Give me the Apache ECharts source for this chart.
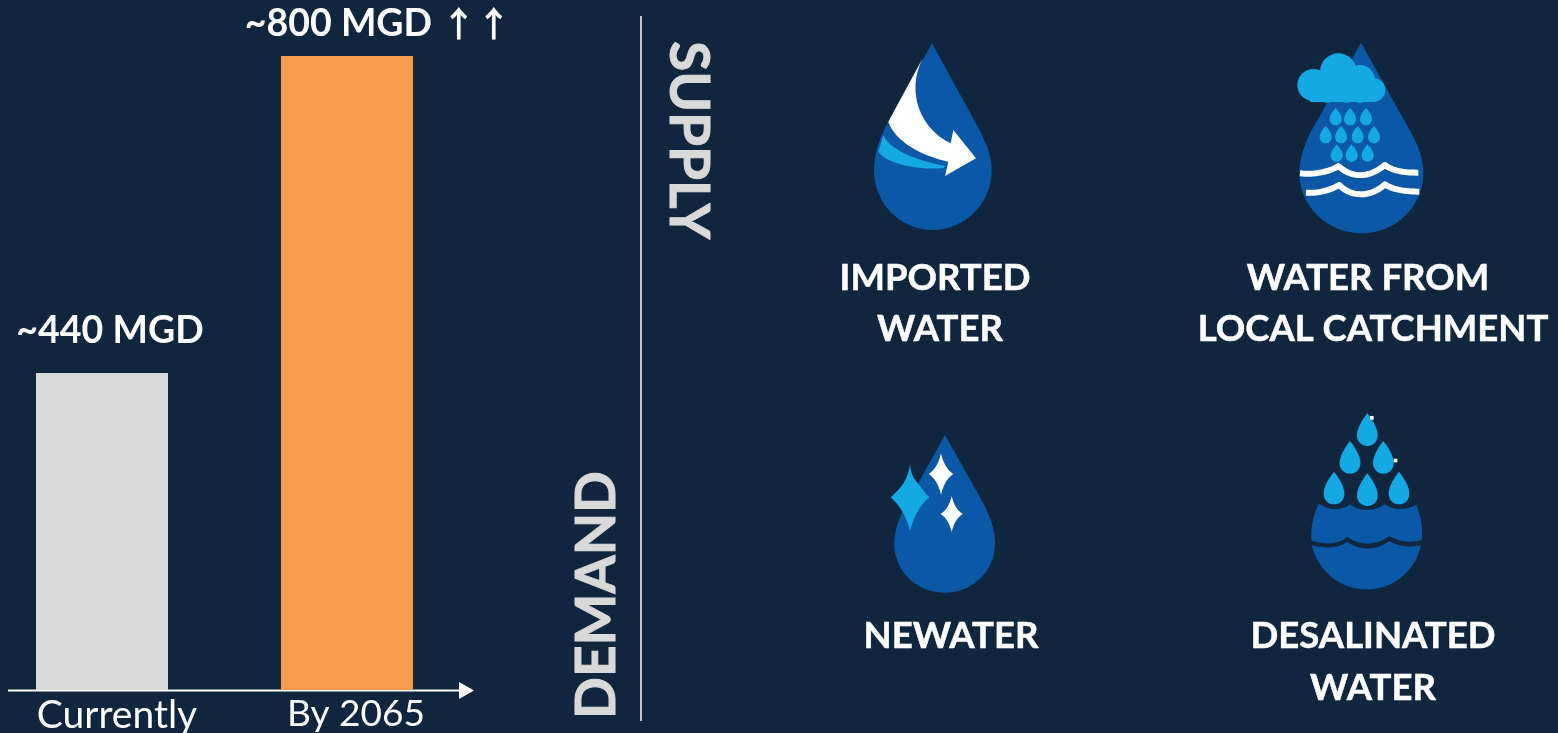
<!DOCTYPE html>
<html><head><meta charset="utf-8">
<style>html,body{margin:0;padding:0;background:#10263f;overflow:hidden}#c{width:1558px;height:733px}</style>
<script src="https://cdn.jsdelivr.net/npm/echarts@6/dist/echarts.min.js"></script>
</head><body><div id="c"></div>
<script>
const categories = ['Currently', 'By 2065'];
const barHeights = [400, 800];
const barLabels = ['~440 MGD', '~800 MGD ↑↑'];
const sideTitles = ['SUPPLY', 'DEMAND'];
const sourceLabels = ['IMPORTED', 'WATER', 'WATER FROM', 'LOCAL CATCHMENT', 'NEWATER', 'DESALINATED', 'WATER'];

const BG = '#10263f', BLUE = '#0a58a6', CYAN = '#14a9e4', WHITE = '#ffffff', GREY = '#d9d9d9', ORANGE = '#f99a4a';
const FONT = 'Lato';

// Turn a small M/L/C/Q/Z outline into points for polygon and polyline shapes.
function outline(d) {
  const t = d.match(/[MLCQZ]|-?[\d.]+/g), pts = [];
  let i = 0, cmd = '', cur = [0, 0];
  const n = () => parseFloat(t[i++]);
  while (i < t.length) {
    if (/[MLCQZ]/.test(t[i])) cmd = t[i++];
    if (cmd === 'Z') continue;
    if (cmd === 'M' || cmd === 'L') { cur = [n(), n()]; pts.push(cur); }
    else if (cmd === 'C') {
      const a = [n(), n()], b = [n(), n()], c = [n(), n()], s = cur;
      for (let k = 1; k <= 16; k++) {
        const u = k / 16, v = 1 - u;
        pts.push([0, 1].map(j => v * v * v * s[j] + 3 * v * v * u * a[j] + 3 * v * u * u * b[j] + u * u * u * c[j]));
      }
      cur = c;
    } else if (cmd === 'Q') {
      const a = [n(), n()], c = [n(), n()], s = cur;
      for (let k = 1; k <= 12; k++) {
        const u = k / 12, v = 1 - u;
        pts.push([0, 1].map(j => v * v * s[j] + 2 * v * u * a[j] + u * u * c[j]));
      }
      cur = c;
    }
  }
  return pts;
}
function dropPath(cx, top, w, h) {
  const r = w / 2, b = top + h, cy = b - r * 1.02;
  return `M${cx} ${top} C${cx + r * .5} ${top + h * .2} ${cx + r} ${cy - r * .7} ${cx + r} ${cy} C${cx + r} ${cy + r * .6} ${cx + r * .55} ${b} ${cx} ${b} C${cx - r * .55} ${b} ${cx - r} ${cy + r * .6} ${cx - r} ${cy} C${cx - r} ${cy - r * .7} ${cx - r * .5} ${top + h * .2} ${cx} ${top} Z`;
}
function starPath(cx, cy, rx, ry) {
  const k = .28;
  return `M${cx} ${cy - ry} Q${cx + rx * k} ${cy - ry * k} ${cx + rx} ${cy} Q${cx + rx * k} ${cy + ry * k} ${cx} ${cy + ry} Q${cx - rx * k} ${cy + ry * k} ${cx - rx} ${cy} Q${cx - rx * k} ${cy - ry * k} ${cx} ${cy - ry} Z`;
}
const p = (d, fill) => ({ type: 'polygon', shape: { points: outline(d) }, style: { fill } });
const wave = d => ({ type: 'polyline', shape: { points: outline(d) }, style: { fill: null, stroke: WHITE, lineWidth: 18, lineJoin: 'round' } });
const circ = (cx, cy, r) => ({ type: 'circle', shape: { cx, cy, r }, style: { fill: CYAN } });
const icon = (x, y, children) => ({ type: 'group', x, y, scaleX: 1 / 3, scaleY: 1 / 3, children });

const icon1 = icon(850, 30, [
  p('M246 40 L375 275 C400 320 425 370 425 420 C425 520 345 600 248 600 C150 600 72 520 72 420 C72 370 90 320 115 275 L246 40 Z', BLUE),
  p('M100 315 C115 355 190 390 285 408 L280 415 C190 420 110 400 85 365 Z', CYAN),
  p('M218 85 L115 275 C135 335 215 378 295 395 L285 438 L378 385 L310 300 L302 340 C215 300 165 190 218 85 Z', WHITE)
]);
const icon2 = icon(1280, 30, [
  p('M243 38 L400 320 C420 360 430 395 430 430 C430 530 345 610 245 610 C145 610 58 530 58 430 C58 395 70 350 90 310 L243 38 Z', BLUE),
  circ(100, 165, 48), circ(175, 125, 55), circ(240, 150, 45), circ(280, 180, 36), circ(140, 180, 38), circ(200, 180, 38), circ(240, 185, 33),
  { type: 'rect', shape: { x: 90, y: 160, width: 190, height: 56 }, style: { fill: CYAN } },
  ...[[167, 234], [210, 234], [258, 234], [137, 288], [183, 288], [233, 288], [282, 288], [170, 343], [215, 343], [263, 343]]
    .map(d => p(dropPath(d[0], d[1], 36, 52), CYAN)),
  wave('M60 430 C100 435 150 425 175 408 C210 440 260 450 315 405 C340 425 380 428 415 428'),
  wave('M78 488 C120 490 150 480 178 465 C210 500 270 505 315 463 C340 480 380 485 418 485')
]);
const icon3 = icon(870, 420, [
  p('M225 45 L340 250 C360 290 375 330 375 370 C375 455 305 518 225 518 C140 518 73 455 73 370 C73 335 85 300 100 270 L225 45 Z', BLUE),
  p('M120 130 C122 160 130 175 140 185 C155 205 165 220 178 232 C150 255 132 290 120 332 C108 290 92 258 62 232 C85 210 115 185 120 130 Z', CYAN),
  p(starPath(213, 162, 37, 62), WHITE),
  p(starPath(245, 282, 33, 54), WHITE)
]);
const icon4 = icon(1290, 405, [
  ...[[232, 25], [180, 108], [280, 108], [132, 200], [232, 205], [327, 200]].map(d => p(dropPath(d[0], d[1], 62, 98), CYAN)),
  p('M87 295 C115 318 155 318 180 298 C210 320 255 320 285 297 C310 318 350 315 378 300 C392 330 400 370 395 405 C365 415 325 410 298 393 C265 420 210 425 172 395 C145 420 105 418 65 408 C60 370 70 330 87 295 Z', BLUE),
  p('M65 420 C105 432 145 430 172 410 C210 440 265 435 298 408 C325 425 365 428 393 420 C375 500 310 553 230 553 C150 553 85 500 65 420 Z', BLUE),
  { type: 'rect', shape: { x: 240, y: 33, width: 11, height: 11 }, style: { fill: WHITE } },
  { type: 'rect', shape: { x: 311, y: 161, width: 11, height: 11 }, style: { fill: WHITE } }
]);

const label = (text, x, y) => ({ type: 'text', x, y, style: { text, fill: WHITE, stroke: WHITE, lineWidth: 0.5, font: `bold 36.5px ${FONT}`, textAlign: 'center', textVerticalAlign: 'middle' } });
const title = (text, x, y, rotation) => ({ type: 'text', x, y, rotation, style: { text, fill: GREY, stroke: GREY, lineWidth: 1, font: `bold 55px ${FONT}`, textAlign: 'center', textVerticalAlign: 'middle' } });

const labelOffsets = [[8, 0], [31, 0]];
const labelDistances = [21, 11];
const chart = echarts.init(document.getElementById('c'));
chart.setOption({
  backgroundColor: BG,
  animation: false,
  grid: { left: -20.5, width: 490, top: 56, bottom: 43, outerBoundsMode: 'none' },
  xAxis: {
    type: 'category', data: categories,
    axisLine: { show: false }, axisTick: { show: false },
    axisLabel: {
      margin: 6, color: WHITE, interval: 0,
      formatter: (v, i) => `{c${i}|${v}}`,
      rich: {
        c0: { color: WHITE, fontFamily: FONT, fontSize: 39, padding: [0, 0, 0, 30] },
        c1: { color: WHITE, fontFamily: FONT, fontSize: 37, padding: [0, 0, 0, 18] }
      }
    }
  },
  yAxis: { type: 'value', min: 0, max: 800, show: false },
  series: [{
    type: 'bar', barWidth: 132,
    data: barHeights.map((value, i) => ({
      value,
      itemStyle: { color: i === 0 ? GREY : ORANGE },
      label: {
        offset: labelOffsets[i],
        distance: labelDistances[i],
        formatter: barLabels[i].replace(/(↑+)/, '{arrows|$1}')
      }
    })),
    label: {
      show: true, position: 'top', color: WHITE,
      fontFamily: FONT, fontWeight: 'bold', fontSize: 37.5, lineHeight: 42,
      rich: { arrows: { fontFamily: 'Noto Sans CJK SC', fontWeight: 'bold', fontSize: 35, lineHeight: 42, color: WHITE } }
    }
  }],
  graphic: [
    { type: 'line', shape: { x1: 8, y1: 690.5, x2: 462, y2: 690.5 }, style: { stroke: WHITE, lineWidth: 2 } },
    { type: 'polygon', shape: { points: [[459, 682], [474, 690.5], [459, 699]] }, style: { fill: WHITE } },
    { type: 'line', shape: { x1: 641, y1: 16, x2: 641, y2: 721 }, style: { stroke: WHITE, lineWidth: 1.5 } },
    title(sideTitles[0], 688, 140, -Math.PI / 2),
    title(sideTitles[1], 597, 595, Math.PI / 2),
    icon1, icon2, icon3, icon4,
    label(sourceLabels[0], 935, 278), label(sourceLabels[1], 940, 329),
    label(sourceLabels[2], 1368, 278), label(sourceLabels[3], 1373, 329),
    label(sourceLabels[4], 951, 636),
    label(sourceLabels[5], 1373, 636), label(sourceLabels[6], 1373, 688)
  ]
});
</script></body></html>
